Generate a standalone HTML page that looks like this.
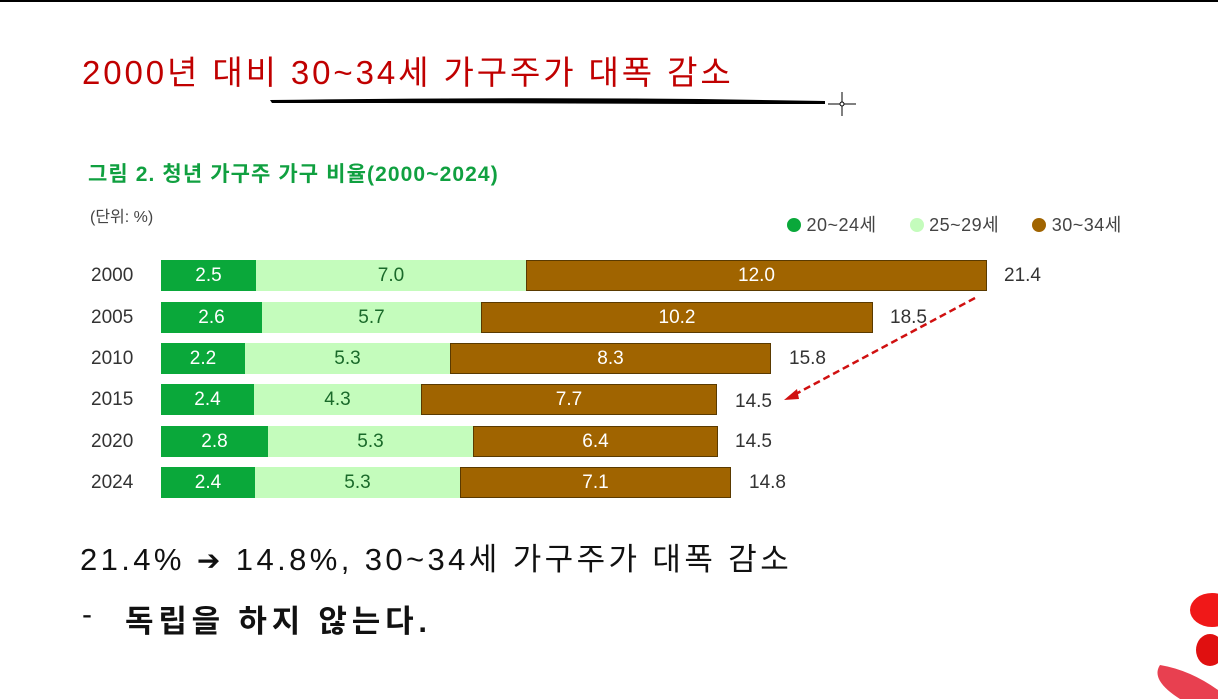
<!DOCTYPE html>
<html><head><meta charset="utf-8"><style>
body{margin:0;width:1218px;height:699px;background:#fff;position:relative;overflow:hidden;font-family:"Liberation Sans","Noto Sans CJK KR",sans-serif}
.a{position:absolute;white-space:nowrap}
.bar{position:absolute;height:31px}
.g{background:#0aa83a}.l{background:#c4fcbc}.b{background:#a06400;border:1px solid #5a3a00;box-sizing:border-box}
.v{position:absolute;font-size:19px;line-height:31px;text-align:center}
.yr{position:absolute;left:91px;font-size:19px;color:#333;line-height:31px}
</style></head><body>
<div class="a" style="left:0;top:0;width:1218px;height:2px;background:#000"></div>
<div class="a" style="left:82px;top:46px;font-size:33px;color:#c00000;letter-spacing:2.9px">2000년 대비 30~34세 가구주가 대폭 감소</div>
<svg class="a" style="left:0;top:0" width="1218" height="699">
<path d="M270 100 Q500 97 700 99 L825 101 L825 104 L700 104 Q500 103 272 103 Z" fill="#000"/>
<line x1="842" y1="92" x2="842" y2="116" stroke="#000" stroke-width="1"/>
<line x1="828" y1="104" x2="856" y2="104" stroke="#000" stroke-width="1"/>
<circle cx="842" cy="104" r="2" fill="#fff" stroke="#000"/>
<line x1="975" y1="298" x2="792" y2="396" stroke="#d01010" stroke-width="2.5" stroke-dasharray="7,4"/>
<polygon points="784,400 797,389 799,399" fill="#d01010"/>
</svg>
<div class="a" style="left:88px;top:158px;font-size:21px;font-weight:bold;color:#10a040;letter-spacing:1.1px">그림 2. 청년 가구주 가구 비율(2000~2024)</div>
<div class="a" style="left:90px;top:203px;font-size:16px;color:#444">(단위: %)</div>
<div class="a" style="left:787px;top:211px;font-size:18px;color:#444;letter-spacing:0.5px">
<span style="display:inline-block;width:14px;height:14px;border-radius:50%;background:#0aa83a;vertical-align:-1px"></span> 20~24세 &nbsp;&nbsp;&nbsp;&nbsp;
<span style="display:inline-block;width:14px;height:14px;border-radius:50%;background:#c4fcbc;vertical-align:-1px"></span> 25~29세 &nbsp;&nbsp;&nbsp;&nbsp;
<span style="display:inline-block;width:14px;height:14px;border-radius:50%;background:#a06400;vertical-align:-1px"></span> 30~34세</div>

<div class="yr" style="top:260px">2000</div>
<div class="bar g" style="left:161px;top:260px;width:95px"></div><div class="bar l" style="left:256px;top:260px;width:270px"></div><div class="bar b" style="left:526px;top:260px;width:461px"></div>
<div class="v" style="left:161px;top:260px;width:95px;color:#fff">2.5</div><div class="v" style="left:256px;top:260px;width:270px;color:#1a6a2a">7.0</div><div class="v" style="left:526px;top:260px;width:461px;color:#fff">12.0</div><div class="v" style="left:1004px;top:260px;color:#333">21.4</div>

<div class="yr" style="top:302px">2005</div>
<div class="bar g" style="left:161px;top:302px;width:101px"></div><div class="bar l" style="left:262px;top:302px;width:219px"></div><div class="bar b" style="left:481px;top:302px;width:392px"></div>
<div class="v" style="left:161px;top:302px;width:101px;color:#fff">2.6</div><div class="v" style="left:262px;top:302px;width:219px;color:#1a6a2a">5.7</div><div class="v" style="left:481px;top:302px;width:392px;color:#fff">10.2</div><div class="v" style="left:890px;top:302px;color:#333">18.5</div>

<div class="yr" style="top:343px">2010</div>
<div class="bar g" style="left:161px;top:343px;width:84px"></div><div class="bar l" style="left:245px;top:343px;width:205px"></div><div class="bar b" style="left:450px;top:343px;width:321px"></div>
<div class="v" style="left:161px;top:343px;width:84px;color:#fff">2.2</div><div class="v" style="left:245px;top:343px;width:205px;color:#1a6a2a">5.3</div><div class="v" style="left:450px;top:343px;width:321px;color:#fff">8.3</div><div class="v" style="left:789px;top:343px;color:#333">15.8</div>

<div class="yr" style="top:384px">2015</div>
<div class="bar g" style="left:161px;top:384px;width:93px"></div><div class="bar l" style="left:254px;top:384px;width:167px"></div><div class="bar b" style="left:421px;top:384px;width:296px"></div>
<div class="v" style="left:161px;top:384px;width:93px;color:#fff">2.4</div><div class="v" style="left:254px;top:384px;width:167px;color:#1a6a2a">4.3</div><div class="v" style="left:421px;top:384px;width:296px;color:#fff">7.7</div><div class="v" style="left:735px;top:386px;color:#333">14.5</div>

<div class="yr" style="top:426px">2020</div>
<div class="bar g" style="left:161px;top:426px;width:107px"></div><div class="bar l" style="left:268px;top:426px;width:205px"></div><div class="bar b" style="left:473px;top:426px;width:245px"></div>
<div class="v" style="left:161px;top:426px;width:107px;color:#fff">2.8</div><div class="v" style="left:268px;top:426px;width:205px;color:#1a6a2a">5.3</div><div class="v" style="left:473px;top:426px;width:245px;color:#fff">6.4</div><div class="v" style="left:735px;top:426px;color:#333">14.5</div>

<div class="yr" style="top:467px">2024</div>
<div class="bar g" style="left:161px;top:467px;width:94px"></div><div class="bar l" style="left:255px;top:467px;width:205px"></div><div class="bar b" style="left:460px;top:467px;width:271px"></div>
<div class="v" style="left:161px;top:467px;width:94px;color:#fff">2.4</div><div class="v" style="left:255px;top:467px;width:205px;color:#1a6a2a">5.3</div><div class="v" style="left:460px;top:467px;width:271px;color:#fff">7.1</div><div class="v" style="left:749px;top:467px;color:#333">14.8</div>

<div class="a" style="left:80px;top:534px;font-size:31px;color:#111;letter-spacing:3.4px">21.4% <span style="font-family:'DejaVu Sans',sans-serif;font-size:28px">➔</span> 14.8%, 30~34세 가구주가 대폭 감소</div>
<div class="a" style="left:82px;top:598px;font-size:30px;color:#111">-</div>
<div class="a" style="left:125px;top:596px;font-size:31px;font-weight:bold;color:#111;letter-spacing:4.8px">독립을 하지 않는다.</div>
<svg class="a" style="left:1140px;top:570px" width="78" height="129">
<ellipse cx="72" cy="40" rx="22" ry="17" fill="#f01818"/>
<ellipse cx="70" cy="80" rx="14" ry="16" fill="#e01010"/>
<path d="M20 95 Q50 100 78 120 L78 129 L40 129 Q10 110 20 95Z" fill="#e84050"/>
</svg>
</body></html>
